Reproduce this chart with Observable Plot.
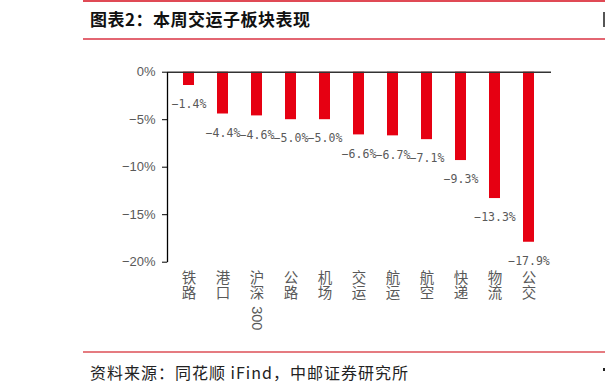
<!DOCTYPE html>
<html>
<head>
<meta charset="utf-8">
<script src="https://cdn.jsdelivr.net/npm/d3@7"></script>
<script src="https://cdn.jsdelivr.net/npm/@observablehq/plot@0.6"></script>
<style>
  html, body { margin: 0; padding: 0; background: #fff; }
  #wrap { position: relative; width: 605px; height: 391px; overflow: hidden; background: #fff; }
  .line { position: absolute; left: 83px; right: 0; height: 2px; }
  #topline { top: 0; background: #e04a55; }
  #titleline { top: 38px; background: #e36672; }
  #footline { top: 351px; background: #e57b80; }
  #title { position: absolute; left: 90px; top: 7px; font-family: "Noto Sans CJK SC"; font-weight: 700; font-size: 17px; line-height: 24px; color: #111; letter-spacing: 0.5px; }
  #source { position: absolute; left: 90px; top: 360px; font-family: "Noto Sans CJK SC"; font-weight: 400; font-size: 16px; line-height: 24px; color: #222; letter-spacing: 1px; }
  #chart { position: absolute; left: 0; top: 44px; }
  #edge1 { position: absolute; left: 603px; top: 12px; width: 2px; height: 15px; background: #555; }
  #edge2 { position: absolute; left: 603px; top: 368px; width: 2px; height: 3px; background: #222; }
  svg g[aria-label="y-axis tick label"] { fill: #595959; }
  svg g[aria-label="y-axis tick"] { stroke: #000; }
</style>
</head>
<body>
<div id="wrap">
  <div class="line" id="topline"></div>
  <div id="title">图表2：本周交运子板块表现</div>
  <div class="line" id="titleline"></div>
  <div id="chart"></div>
  <div class="line" id="footline"></div>
  <div id="source">资料来源：同花顺 iFind，中邮证券研究所</div>
  <div id="edge1"></div>
  <div id="edge2"></div>
</div>
<script>
const categories = ["铁路", "港口", "沪深300", "公路", "机场", "交运", "航运", "航空", "快递", "物流", "公交"];
const values = [-1.4, -4.4, -4.6, -5.0, -5.0, -6.6, -6.7, -7.1, -9.3, -13.3, -17.9];
const yTicks = [0, -5, -10, -15, -20];

const data = categories.map((c, i) => ({cat: c, val: values[i]}));
const fmt = v => (v < 0 ? "−" : "") + Math.abs(v).toFixed(1) + "%";
const cjkPart = s => s.replace(/[0-9A-Za-z]+/g, "").split("").join("\n");
const latinPart = s => (s.match(/[0-9A-Za-z]+/g) || []).join("");
const latinCats = categories.filter(c => latinPart(c).length > 0);

const W = 605, H = 300, ML = 167, MR = 54, MT = 27.7, MB = 82.3;
const fw = W - ML - MR, fh = H - MT - MB;

const svg = Plot.plot({
  width: W,
  height: H,
  marginLeft: ML,
  marginRight: MR,
  marginTop: MT,
  marginBottom: MB,
  style: {fontFamily: "'Liberation Sans', Arial, sans-serif", fontSize: "13px", background: "transparent", overflow: "visible"},
  x: {domain: categories, paddingInner: 0.665, paddingOuter: 0.3325, axis: null},
  y: {domain: [-20, 0], axis: null},
  marks: [
    Plot.barY(data, {x: "cat", y: "val", fill: "#e60012"}),
    Plot.ruleY([0], {stroke: "#333", strokeWidth: 1.5}),
    Plot.axisY({ticks: yTicks, tickFormat: d => (d < 0 ? "−" : "") + Math.abs(d) + "%", tickSize: 5, tickPadding: 7, fontSize: 13, label: null}),
    Plot.frame({stroke: "#000", strokeWidth: 1.3, strokeDasharray: `0,${2 * fw + fh},${fh}`}),
    Plot.text(data, {x: "cat", y: "val", text: d => fmt(d.val), dy: 19, fill: "#595959", fontFamily: "'DejaVu Sans Mono', monospace", fontSize: 11.5}),
    Plot.text(categories, {x: d => d, frameAnchor: "bottom", text: d => cjkPart(d), lineAnchor: "top", lineHeight: 1.04, dy: 10, fill: "#595959", fontFamily: "'Noto Sans CJK SC'", fontSize: 14.5}),
    Plot.text(latinCats, {x: d => d, frameAnchor: "bottom", text: d => latinPart(d), rotate: 90, textAnchor: "start", lineAnchor: "middle", dy: 44, fill: "#595959", fontFamily: "'Liberation Sans', Arial, sans-serif", fontSize: 14.5})
  ]
});

document.getElementById("chart").appendChild(svg);
</script>
</body>
</html>
